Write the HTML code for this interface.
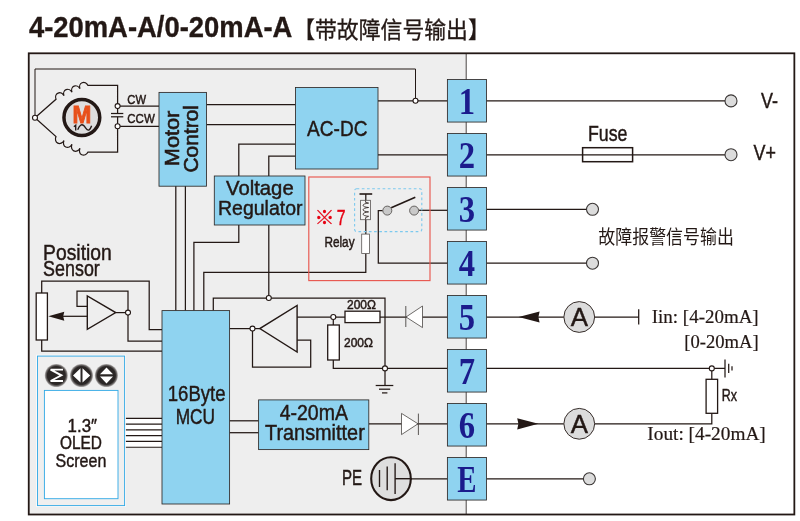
<!DOCTYPE html>
<html lang="zh"><head><meta charset="utf-8"><title>4-20mA-A/0-20mA-A</title>
<style>html,body{margin:0;padding:0;background:#fff;}body{width:800px;height:521px;overflow:hidden;font-family:"Liberation Sans",sans-serif;}svg{display:block;will-change:transform}</style>
</head><body>
<svg width="800" height="521" viewBox="0 0 800 521">
<rect x="0" y="0" width="800" height="521" fill="#fff"/>
<rect x="28.75" y="53.3" width="437.5" height="461.2" fill="#eeeeee"/>
<line x1="466.2" y1="53.3" x2="466.2" y2="514.5" stroke="#4a4644" stroke-width="1"/>
<rect x="28.75" y="53.3" width="765.6" height="461.2" fill="none" stroke="#231815" stroke-width="1.8"/>
<rect x="125" y="418.4" width="37" height="28.8" fill="#fff"/>
<g fill="none" stroke="#231815" stroke-width="1.25" stroke-linejoin="miter"><path d="M35.00,117.80 L35.00,69.00 L415.50,69.00 L415.50,100.75" stroke-width="1.0"/>
<path d="M35,117.8 L56,99.2  A4.36,5.01 -23.3 0 1 64.00,95.75 A4.36,5.01 -23.3 0 1 72.00,92.30 A4.36,5.01 -23.3 0 1 80.00,88.85 A4.36,5.01 -23.3 0 1 88.00,85.40 L117.6,85.4 L117.6,113.5"/>
<path d="M35,117.8 L56,136.6  A4.44,5.11 25.8 0 0 64.00,140.47 A4.44,5.11 25.8 0 0 72.00,144.35 A4.44,5.11 25.8 0 0 80.00,148.22 A4.44,5.11 25.8 0 0 88.00,152.10 L117.6,152.1 L117.6,116.8"/>
<path d="M111.00,113.50 L123.30,113.50"/>
<path d="M111.00,116.80 L123.30,116.80"/>
<path d="M117.60,106.10 L159.00,106.10"/>
<path d="M117.60,126.30 L159.00,126.30"/>
<path d="M206.50,104.70 L295.50,104.70"/>
<path d="M206.50,124.50 L295.50,124.50"/>
<path d="M295.50,144.00 L238.80,144.00 L238.80,176.00"/>
<path d="M295.50,156.20 L268.80,156.20 L268.80,176.00"/>
<path d="M378.00,100.75 L447.50,100.75"/>
<path d="M378.00,154.90 L447.50,154.90"/>
<path d="M175.80,186.00 L175.80,310.50"/>
<path d="M185.40,186.00 L185.40,310.50"/>
<path d="M238.80,225.00 L238.80,242.40 L193.90,242.40 L193.90,310.50"/>
<path d="M268.80,225.00 L268.80,298.00"/>
<path d="M365.80,253.50 L365.80,272.30 L203.80,272.30 L203.80,310.50"/>
<path d="M213.30,310.50 L213.30,298.00 L385.00,298.00 L385.00,385.50"/>
<path d="M375.70,385.50 L393.30,385.50"/>
<path d="M379.00,389.20 L390.20,389.20"/>
<path d="M382.00,392.90 L387.40,392.90"/>
<path d="M41.70,293.00 L41.70,281.00 L149.20,281.00 L149.20,329.60 L162.00,329.60"/>
<path d="M41.70,340.00 L41.70,351.00 L162.00,351.00"/>
<path d="M63.00,316.30 L87.30,316.30"/>
<path d="M115.50,312.60 L128.00,312.60"/>
<path d="M128.00,312.60 L128.00,291.00 L77.00,291.00 L77.00,306.30 L87.30,306.30"/>
<path d="M128.00,312.60 L128.00,341.20 L162.00,341.20"/>
<path d="M229.60,328.60 L260.00,328.60"/>
<path d="M252.50,328.60 L252.50,367.20 L310.70,367.20 L310.70,340.00 L297.00,340.00"/>
<path d="M297.00,317.00 L345.00,317.00"/>
<path d="M380.00,317.00 L447.50,317.00"/>
<path d="M333.30,317.00 L333.30,325.00"/>
<path d="M333.30,360.00 L333.30,368.40 L447.50,368.40"/>
<path d="M124.80,418.40 L162.00,418.40" stroke-width="1.15"/>
<path d="M124.80,424.16 L162.00,424.16" stroke-width="1.15"/>
<path d="M124.80,429.92 L162.00,429.92" stroke-width="1.15"/>
<path d="M124.80,435.68 L162.00,435.68" stroke-width="1.15"/>
<path d="M124.80,441.44 L162.00,441.44" stroke-width="1.15"/>
<path d="M124.80,447.20 L162.00,447.20" stroke-width="1.15"/>
<path d="M229.60,420.80 L258.60,420.80"/>
<path d="M229.60,432.70 L258.60,432.70"/>
<path d="M368.80,423.80 L447.50,423.80"/>
<path d="M395.40,478.80 L447.50,478.80"/>
<path d="M382.70,210.60 L378.30,210.60 L378.30,263.20 L447.50,263.20"/>
<path d="M418.70,210.30 L447.50,210.30"/>
<path d="M365.80,194.00 L365.80,200.30"/>
<path d="M365.80,219.70 L365.80,234.10"/>
<path d="M486.50,100.90 L725.00,100.90"/>
<path d="M486.50,154.90 L725.00,154.90"/>
<path d="M486.50,209.40 L586.50,209.40"/>
<path d="M486.50,263.20 L586.50,263.20"/>
<path d="M486.50,317.00 L563.80,317.00"/>
<path d="M594.70,317.00 L638.70,317.00"/>
<path d="M638.70,309.20 L638.70,324.60"/>
<path d="M486.50,368.40 L725.00,368.40"/>
<path d="M725.00,359.50 L725.00,377.50"/>
<path d="M728.70,363.80 L728.70,373.00"/>
<path d="M732.00,366.30 L732.00,370.50"/>
<path d="M711.80,368.40 L711.80,379.30"/>
<path d="M486.50,423.80 L563.80,423.80"/>
<path d="M594.70,423.80 L711.80,423.80 L711.80,413.30"/>
<path d="M486.50,478.80 L583.40,478.80"/></g>
<rect x="159" y="92.4" width="47.50" height="93.80" fill="#8fd3f0" stroke="#2e2927" stroke-width="0.85"/>
<rect x="295.5" y="87.5" width="82.50" height="81.50" fill="#8fd3f0" stroke="#2e2927" stroke-width="0.85"/>
<rect x="214.3" y="176" width="90.70" height="49.00" fill="#8fd3f0" stroke="#2e2927" stroke-width="0.85"/>
<rect x="162" y="310.6" width="67.60" height="193.40" fill="#8fd3f0" stroke="#2e2927" stroke-width="0.85"/>
<rect x="258.6" y="399.9" width="110.20" height="49.70" fill="#8fd3f0" stroke="#2e2927" stroke-width="0.85"/>
<rect x="447.4" y="79.55" width="39.10" height="42.50" fill="#8fd3f0" stroke="#2e2927" stroke-width="0.85"/>
<rect x="447.4" y="133.55" width="39.10" height="42.50" fill="#8fd3f0" stroke="#2e2927" stroke-width="0.85"/>
<rect x="447.4" y="187.55" width="39.10" height="42.50" fill="#8fd3f0" stroke="#2e2927" stroke-width="0.85"/>
<rect x="447.4" y="241.55" width="39.10" height="42.50" fill="#8fd3f0" stroke="#2e2927" stroke-width="0.85"/>
<rect x="447.4" y="295.55" width="39.10" height="42.50" fill="#8fd3f0" stroke="#2e2927" stroke-width="0.85"/>
<rect x="447.4" y="349.55" width="39.10" height="42.50" fill="#8fd3f0" stroke="#2e2927" stroke-width="0.85"/>
<rect x="447.4" y="403.55" width="39.10" height="42.50" fill="#8fd3f0" stroke="#2e2927" stroke-width="0.85"/>
<rect x="447.4" y="457.55" width="39.10" height="42.50" fill="#8fd3f0" stroke="#2e2927" stroke-width="0.85"/>
<rect x="308.8" y="177" width="121.2" height="103.6" fill="none" stroke="#e8574f" stroke-width="1.15"/>
<rect x="354.6" y="188.7" width="67.2" height="42.9" fill="none" rx="2" stroke="#7cc9ee" stroke-width="1.1" stroke-dasharray="2.7 2.5"/>
<circle cx="81.85" cy="117.5" r="17.9" fill="#dedede" stroke="#231815" stroke-width="3.5"/>
<path d="M77.7,129.7 C79.6,125.2 81.6,123.9 83.5,125.4 C85.6,127 86.6,130.7 88.7,130.1 C90.1,129.7 91,127.6 91.6,125.8 M73.9,126.7 L75.7,125.2 L75.7,130.6" fill="none" stroke="#231815" stroke-width="1.35"/>
<rect x="36.2" y="293" width="11.2" height="47" fill="#fff" stroke="#231815" stroke-width="1.3"/>
<path d="M48.3,316.3 L64.3,311.8 L63.2,316.3 L64.3,320.8 Z" fill="#231815"/>
<path d="M87.3,295.9 L87.3,329.3 L115.7,312.6 Z" fill="#eeeeee" stroke="#231815" stroke-width="1.4"/>
<path d="M297.1,305.4 L297.1,352 L259.8,328.6 Z" fill="#eeeeee" stroke="#231815" stroke-width="1.4"/>
<rect x="345" y="311.2" width="35" height="11.4" fill="#fff" stroke="#231815" stroke-width="1.3"/>
<rect x="327.7" y="325" width="11.6" height="35" fill="#fff" stroke="#231815" stroke-width="1.3"/>
<rect x="706.1" y="379.3" width="11.5" height="34" fill="#fff" stroke="#231815" stroke-width="1.3"/>
<rect x="582.6" y="147.7" width="50" height="14" fill="none" stroke="#231815" stroke-width="1.5"/>
<path d="M406,317 L422.5,306 L422.5,327.6 Z" fill="#fff" stroke="#4a4644" stroke-width="0.8"/>
<line x1="405.8" y1="306" x2="405.8" y2="327" stroke="#4a4644" stroke-width="0.9"/>
<path d="M418,423.8 L401.5,413.4 L401.5,434.6 Z" fill="#fff" stroke="#4a4644" stroke-width="0.8"/>
<line x1="418.4" y1="413.6" x2="418.4" y2="435" stroke="#4a4644" stroke-width="0.9"/>
<path d="M518.6,317 L539.6,311.4 L538.4,317 L539.6,322.6 Z" fill="#231815"/>
<path d="M538.4,423.8 L517.2,418.2 L518.4,423.8 L517.2,429.4 Z" fill="#231815"/>
<circle cx="579.25" cy="317" r="15.4" fill="#dcdcdc" stroke="#231815" stroke-width="0.9"/>
<circle cx="579.25" cy="423.8" r="15.4" fill="#dcdcdc" stroke="#231815" stroke-width="0.9"/>
<circle cx="731" cy="100.9" r="6" fill="#dcdcdc" stroke="#3a3635" stroke-width="1.1"/>
<circle cx="731" cy="154.7" r="6" fill="#dcdcdc" stroke="#3a3635" stroke-width="1.1"/>
<circle cx="592.5" cy="209.3" r="6" fill="#dcdcdc" stroke="#3a3635" stroke-width="1.1"/>
<circle cx="592.5" cy="263.2" r="6" fill="#dcdcdc" stroke="#3a3635" stroke-width="1.1"/>
<circle cx="589.4" cy="478.8" r="6" fill="#dcdcdc" stroke="#3a3635" stroke-width="1.1"/>
<line x1="359.5" y1="194" x2="372.2" y2="194" stroke="#231815" stroke-width="1.6"/>
<rect x="360.6" y="200.3" width="9.8" height="19.4" fill="#f4f4f4" stroke="#5a5654" stroke-width="0.8"/>
<path d="M365.6,200.4 L365.6,202.4 L368.6,203.1 C361.2,203.8 361.2,207 368.6,207.5 C361.2,208.2 361.2,211.4 368.6,211.9 C361.2,212.6 361.2,215.8 368.6,216.3 L365.6,217.6 L365.6,219.6" fill="none" stroke="#231815" stroke-width="0.8"/>
<rect x="361.7" y="234.1" width="7.8" height="19.4" fill="#fff" stroke="#5a5654" stroke-width="0.8"/>
<line x1="391.2" y1="207.8" x2="415.3" y2="197.2" stroke="#231815" stroke-width="1.6"/>
<circle cx="387.3" cy="210.6" r="4.5" fill="#c9c9c9" stroke="#4a4644" stroke-width="0.8"/>
<circle cx="414.1" cy="210.6" r="4.5" fill="#c9c9c9" stroke="#4a4644" stroke-width="0.8"/>
<ellipse cx="391" cy="478.7" rx="19.8" ry="21.4" fill="#dedede" stroke="#231815" stroke-width="2.1"/>
<path d="M379.5,470 L379.5,486.9 M387.2,466.6 L387.2,490.3 M395.1,463.2 L395.1,494" fill="none" stroke="#231815" stroke-width="1.35"/>
<line x1="395.1" y1="478.7" x2="412" y2="478.7" stroke="#231815" stroke-width="1.4"/>
<g fill="#fff" stroke="#231815" stroke-width="1.1"><circle cx="35.00" cy="117.80" r="2.5" />
<circle cx="117.60" cy="106.10" r="2.5" />
<circle cx="117.60" cy="126.30" r="2.5" />
<circle cx="415.50" cy="100.75" r="2.5" />
<circle cx="268.80" cy="298.00" r="2.5" />
<circle cx="128.00" cy="312.60" r="2.5" />
<circle cx="252.50" cy="328.60" r="2.5" />
<circle cx="333.30" cy="317.00" r="2.5" />
<circle cx="385.00" cy="368.40" r="2.5" />
<circle cx="711.80" cy="368.40" r="2.5" /></g>
<rect x="36.6" y="355.2" width="88.8" height="151.2" fill="none" stroke="#fafafa" stroke-width="1"/>
<rect x="37.5" y="356.1" width="87.1" height="149.5" fill="#efefef" stroke="#2fa8e6" stroke-width="0.9"/>
<rect x="44.4" y="390.4" width="73.6" height="108.3" fill="#fff" stroke="#2fa8e6" stroke-width="0.9"/>
<defs><radialGradient id="bt"><stop offset="0" stop-color="#2b2726"/><stop offset="0.78" stop-color="#2b2726"/><stop offset="0.9" stop-color="#6a6665"/><stop offset="1" stop-color="#8a8685" stop-opacity="0.6"/></radialGradient></defs>
<circle cx="56.3" cy="375.5" r="11.5" fill="url(#bt)"/>
<circle cx="81.5" cy="375.5" r="11.5" fill="url(#bt)"/>
<circle cx="106.4" cy="375.5" r="11.5" fill="url(#bt)"/>
<path d="M63,369.6 L50.6,369.6 L61.4,375.3 L50.6,381 L63,381" fill="none" stroke="#fff" stroke-width="1.9" stroke-linejoin="miter"/>
<path d="M80.5,368.2 L80.5,382.6 L73,375.4 Z M82.5,368.2 L82.5,382.6 L90.2,375.4 Z" fill="#fff"/>
<path d="M100,374.2 L113,374.2 L106.5,367.4 Z M100,376.5 L113,376.5 L106.5,383.6 Z" fill="#fff"/>
<text transform="translate(28.90,37.20) scale(0.9389,1)" font-family='"Liberation Sans", sans-serif' font-size="29.2" font-weight="bold" fill="#231815" stroke="#231815" stroke-width="0.35">4-20mA-A/0-20mA-A</text>
<text transform="translate(127.30,103.50) scale(0.9122,1)" font-family='"Liberation Sans", sans-serif' font-size="12.3" fill="#231815" stroke="#231815" stroke-width="0.45">CW</text>
<text transform="translate(127.30,122.70) scale(0.9354,1)" font-family='"Liberation Sans", sans-serif' font-size="12.3" fill="#231815" stroke="#231815" stroke-width="0.45">CCW</text>
<text transform="translate(178.50,166.20) rotate(-90) scale(1.0592,1)" font-family='"Liberation Sans", sans-serif' font-size="20.5" fill="#231815" stroke="#231815" stroke-width="0.6">Motor</text>
<text transform="translate(198.00,172.50) rotate(-90) scale(1.0212,1)" font-family='"Liberation Sans", sans-serif' font-size="20.5" fill="#231815" stroke="#231815" stroke-width="0.6">Control</text>
<text transform="translate(307.00,136.00) scale(0.8762,1)" font-family='"Liberation Sans", sans-serif' font-size="21.8" fill="#231815" stroke="#231815" stroke-width="0.45">AC-DC</text>
<text transform="translate(226.00,195.00) scale(1.0000,1)" font-family='"Liberation Sans", sans-serif' font-size="20.3" fill="#231815" stroke="#231815" stroke-width="0.45">Voltage</text>
<text transform="translate(218.00,215.30) scale(0.9602,1)" font-family='"Liberation Sans", sans-serif' font-size="20.3" fill="#231815" stroke="#231815" stroke-width="0.45">Regulator</text>
<text transform="translate(336.70,224.60) scale(0.7184,1)" font-family='"Liberation Sans", sans-serif' font-size="22" fill="#e60012" stroke="#e60012" stroke-width="0.45">7</text>
<text transform="translate(324.40,247.40) scale(0.8151,1)" font-family='"Liberation Sans", sans-serif' font-size="14.5" fill="#231815" stroke="#231815" stroke-width="0.45">Relay</text>
<text transform="translate(43.10,259.50) scale(0.9022,1)" font-family='"Liberation Sans", sans-serif' font-size="21.4" fill="#231815" stroke="#231815" stroke-width="0.45">Position</text>
<text transform="translate(43.10,276.30) scale(0.8363,1)" font-family='"Liberation Sans", sans-serif' font-size="21.4" fill="#231815" stroke="#231815" stroke-width="0.45">Sensor</text>
<text transform="translate(167.80,401.20) scale(0.8595,1)" font-family='"Liberation Sans", sans-serif' font-size="21.6" fill="#231815" stroke="#231815" stroke-width="0.45">16Byte</text>
<text transform="translate(175.70,424.00) scale(0.8008,1)" font-family='"Liberation Sans", sans-serif' font-size="21.6" fill="#231815" stroke="#231815" stroke-width="0.45">MCU</text>
<text transform="translate(279.70,419.90) scale(0.9155,1)" font-family='"Liberation Sans", sans-serif' font-size="21.3" fill="#231815" stroke="#231815" stroke-width="0.45">4-20mA</text>
<text transform="translate(265.00,440.20) scale(0.9336,1)" font-family='"Liberation Sans", sans-serif' font-size="21.3" fill="#231815" stroke="#231815" stroke-width="0.45">Transmitter</text>
<text transform="translate(341.90,485.20) scale(0.6979,1)" font-family='"Liberation Sans", sans-serif' font-size="21.6" fill="#231815" stroke="#231815" stroke-width="0.45">PE</text>
<text transform="translate(347.00,308.50) scale(0.9236,1)" font-family='"Liberation Sans", sans-serif' font-size="13" fill="#231815" stroke="#231815" stroke-width="0.45">200Ω</text>
<text transform="translate(344.00,346.60) scale(0.9236,1)" font-family='"Liberation Sans", sans-serif' font-size="13" fill="#231815" stroke="#231815" stroke-width="0.45">200Ω</text>
<text transform="translate(67.60,431.60) scale(0.9216,1)" font-family='"Liberation Sans", sans-serif' font-size="18.3" fill="#231815" stroke="#231815" stroke-width="0.45">1.3″</text>
<text transform="translate(60.00,449.00) scale(0.8425,1)" font-family='"Liberation Sans", sans-serif' font-size="18.3" fill="#231815" stroke="#231815" stroke-width="0.45">OLED</text>
<text transform="translate(55.60,466.60) scale(0.8759,1)" font-family='"Liberation Sans", sans-serif' font-size="18.3" fill="#231815" stroke="#231815" stroke-width="0.45">Screen</text>
<text transform="translate(588.00,141.00) scale(0.8153,1)" font-family='"Liberation Sans", sans-serif' font-size="21.8" fill="#231815" stroke="#231815" stroke-width="0.45">Fuse</text>
<text transform="translate(761.00,107.50) scale(0.8095,1)" font-family='"Liberation Sans", sans-serif' font-size="22.2" fill="#231815" stroke="#231815" stroke-width="0.45">V-</text>
<text transform="translate(753.60,160.10) scale(0.8072,1)" font-family='"Liberation Sans", sans-serif' font-size="22.2" fill="#231815" stroke="#231815" stroke-width="0.45">V+</text>
<text transform="translate(651.75,323.00) scale(0.9885,1)" font-family='"Liberation Serif", serif' font-size="19.2" fill="#231815" stroke="#231815" stroke-width="0.2">Iin: [4-20mA]</text>
<text transform="translate(684.25,347.50) scale(0.9701,1)" font-family='"Liberation Serif", serif' font-size="19.2" fill="#231815" stroke="#231815" stroke-width="0.2">[0-20mA]</text>
<text transform="translate(647.30,440.10) scale(1.0055,1)" font-family='"Liberation Serif", serif' font-size="19.2" fill="#231815" stroke="#231815" stroke-width="0.2">Iout: [4-20mA]</text>
<text transform="translate(721.75,400.50) scale(0.7663,1)" font-family='"Liberation Sans", sans-serif' font-size="16.3" fill="#231815" stroke="#231815" stroke-width="0.45">Rx</text>
<text transform="translate(570.75,325.75) scale(1.0029,1)" font-family='"Liberation Sans", sans-serif' font-size="25.8" fill="#231815" stroke="#231815" stroke-width="0.45">A</text>
<text transform="translate(570.75,432.55) scale(1.0029,1)" font-family='"Liberation Sans", sans-serif' font-size="25.8" fill="#231815" stroke="#231815" stroke-width="0.45">A</text>
<text transform="translate(72.40,122.80) scale(0.9567,1)" font-family='"Liberation Sans", sans-serif' font-size="23.6" font-weight="bold" fill="#e8501a" stroke="#e8501a" stroke-width="0.9">M</text>
<text transform="translate(458.83,113.95) scale(0.86,1)" font-family='"Liberation Serif", serif' font-size="38" font-weight="bold" fill="#1b1b8c">1</text>
<text transform="translate(458.83,167.95) scale(0.86,1)" font-family='"Liberation Serif", serif' font-size="38" font-weight="bold" fill="#1b1b8c">2</text>
<text transform="translate(458.83,221.95) scale(0.86,1)" font-family='"Liberation Serif", serif' font-size="38" font-weight="bold" fill="#1b1b8c">3</text>
<text transform="translate(458.83,275.95) scale(0.86,1)" font-family='"Liberation Serif", serif' font-size="38" font-weight="bold" fill="#1b1b8c">4</text>
<text transform="translate(458.83,329.95) scale(0.86,1)" font-family='"Liberation Serif", serif' font-size="38" font-weight="bold" fill="#1b1b8c">5</text>
<text transform="translate(458.83,383.95) scale(0.86,1)" font-family='"Liberation Serif", serif' font-size="38" font-weight="bold" fill="#1b1b8c">7</text>
<text transform="translate(458.83,437.95) scale(0.86,1)" font-family='"Liberation Serif", serif' font-size="38" font-weight="bold" fill="#1b1b8c">6</text>
<text transform="translate(457.37,491.95) scale(0.76,1)" font-family='"Liberation Serif", serif' font-size="38" font-weight="bold" fill="#1b1b8c">E</text>
<text x="314.6" y="224.6" font-family='"Liberation Sans", "Noto Sans CJK SC", sans-serif' font-size="20" fill="#e60012" stroke="#e60012" stroke-width="0.3">※</text>
<text transform="translate(293.20,37.50) scale(0.9422,1)" font-family='"Liberation Sans", "Noto Sans CJK SC", sans-serif' font-size="23.2" fill="#231815" stroke="#231815" stroke-width="0.3">【带故障信号输出】</text>
<text transform="translate(598.30,243.90) scale(0.8926,1)" font-family='"Liberation Sans", "Noto Sans CJK SC", sans-serif' font-size="19" fill="#231815">故障报警信号输出</text>
</svg>
</body></html>
